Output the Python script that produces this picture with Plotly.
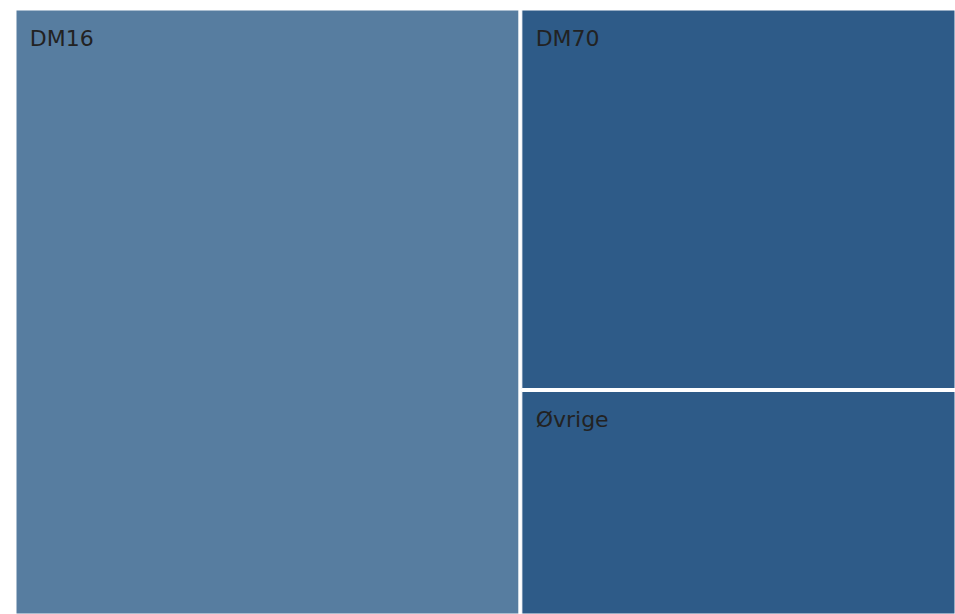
import plotly.graph_objects as go

labels = ["DM16", "DM70", "Øvrige"]
values = [53.7, 29.1, 17.2]
colors = ["#577da0", "#2e5b88", "#2e5b88"]

fig = go.Figure(go.Treemap(
    labels=labels,
    parents=["", "", ""],
    values=values,
    marker=dict(colors=colors, line=dict(color="white", width=1),
                pad=dict(t=0, l=0, r=0, b=0)),
    textposition="top left",
    textfont=dict(family="DejaVu Sans", size=22, color="#222222"),
    texttemplate="<span style='font-size:4px'>\u00a0</span><br>"
                 "<span style='font-size:17px'>\u00a0\u00a0</span>%{label}",
    pathbar=dict(visible=False),
    domain=dict(x=[0, 1], y=[0, 1]),
))
fig.update_layout(
    width=955, height=614,
    margin=dict(l=16, t=10, r=0, b=0, pad=0),
    paper_bgcolor="white",
)
fig.write_html(
    "out.html",
    config={"displayModeBar": False},
    post_script="document.body.style.margin='0';"
                "document.documentElement.style.overflow='hidden';"
                "document.body.style.overflow='hidden';",
)
